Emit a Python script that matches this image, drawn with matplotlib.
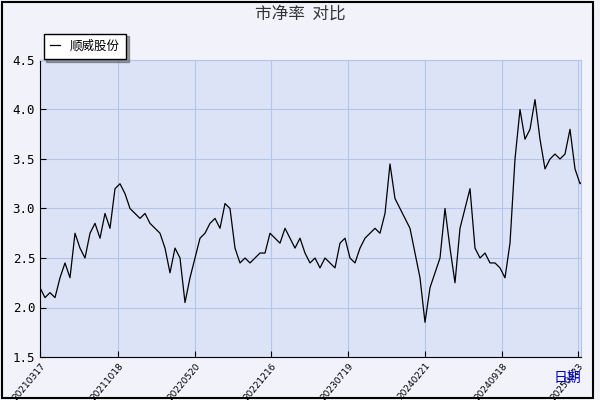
import matplotlib
matplotlib.use("Agg")
import matplotlib.pyplot as plt
from matplotlib.patches import Rectangle

plt.rcParams['font.family'] = ['Noto Sans CJK SC', 'DejaVu Sans']

values = [2.2, 2.1, 2.15, 2.1, 2.3, 2.45, 2.3, 2.75, 2.6, 2.5, 2.75, 2.85, 2.7, 2.95, 2.8,
          3.2, 3.25, 3.15, 3.0, 2.95, 2.9, 2.95, 2.85, 2.8, 2.75, 2.6, 2.35, 2.6, 2.5, 2.05,
          2.3, 2.5, 2.7, 2.75, 2.85, 2.9, 2.8, 3.05, 3.0, 2.6, 2.45, 2.5, 2.45, 2.5, 2.55,
          2.55, 2.75, 2.7, 2.65, 2.8, 2.7, 2.6, 2.7, 2.55, 2.45, 2.5, 2.4, 2.5, 2.45, 2.4,
          2.65, 2.7, 2.5, 2.45, 2.6, 2.7, 2.75, 2.8, 2.75, 2.95, 3.45, 3.1, 3.0, 2.9, 2.8,
          2.55, 2.3, 1.85, 2.2, 2.35, 2.5, 3.0, 2.6, 2.25, 2.8, 3.0, 3.2, 2.6, 2.5, 2.55,
          2.45, 2.45, 2.4, 2.3, 2.65, 3.5, 4.0, 3.7, 3.8, 4.1, 3.7, 3.4, 3.5, 3.55, 3.5,
          3.55, 3.8, 3.4, 3.25, 3.3]
tick_labels = ["20210317", "20211018", "20220520", "20221216", "20230719",
               "20240221", "20240918", "20250423"]
tick_pos = [0, 15.6, 31, 46.2, 61.6, 77, 92.4, 107.6]

fig = plt.figure(figsize=(6, 4), dpi=100)
fig.patch.set_facecolor('#f2f2fa')
fig.patches.append(Rectangle((0.004, 0.004), 0.985, 0.99, transform=fig.transFigure,
                             facecolor='none', edgecolor='black', lw=1.5))
ax = fig.add_axes([40/600, 1-357/400, 541/600, 297/400])
ax.set_facecolor('#dce3f6')
x = list(range(len(values)))
ax.plot(x, values, color='black', lw=0.9, label='顺威股份')
ax.set_xlim(0, 108.2)
ax.set_ylim(1.5, 4.5)
ax.set_yticks([1.5, 2.0, 2.5, 3.0, 3.5, 4.0, 4.5])
ax.set_yticklabels(['1.5', '2.0', '2.5', '3.0', '3.5', '4.0', '4.5'], fontsize=9, family='DejaVu Sans Mono')
ax.set_xticks(tick_pos)
ax.set_xticklabels(tick_labels, rotation=50, ha='right', va='top', rotation_mode='anchor',
                   fontsize=6.5, family='DejaVu Sans')
ax.grid(True, color='#b4c4ea', lw=0.8)
for s in ['top', 'right']:
    ax.spines[s].set_color('#b4c4ea')
ax.tick_params(direction='in', length=4)
ax.tick_params(axis='x', pad=3)
fig.text(0.5, 0.965, '市净率  对比', ha='center', va='center', fontsize=12, color='#333333')
fig.text(0.945, 0.055, '日期', ha='center', va='center', fontsize=10, color='#0000cc')
leg = ax.legend(loc='upper left', bbox_to_anchor=(-0.005, 1.11), fontsize=9, frameon=True,
                fancybox=False, shadow=True, handlelength=0.8, borderpad=0.5)
leg.get_frame().set_edgecolor('black')
fig.savefig('out.png', dpi=100, facecolor=fig.get_facecolor())
